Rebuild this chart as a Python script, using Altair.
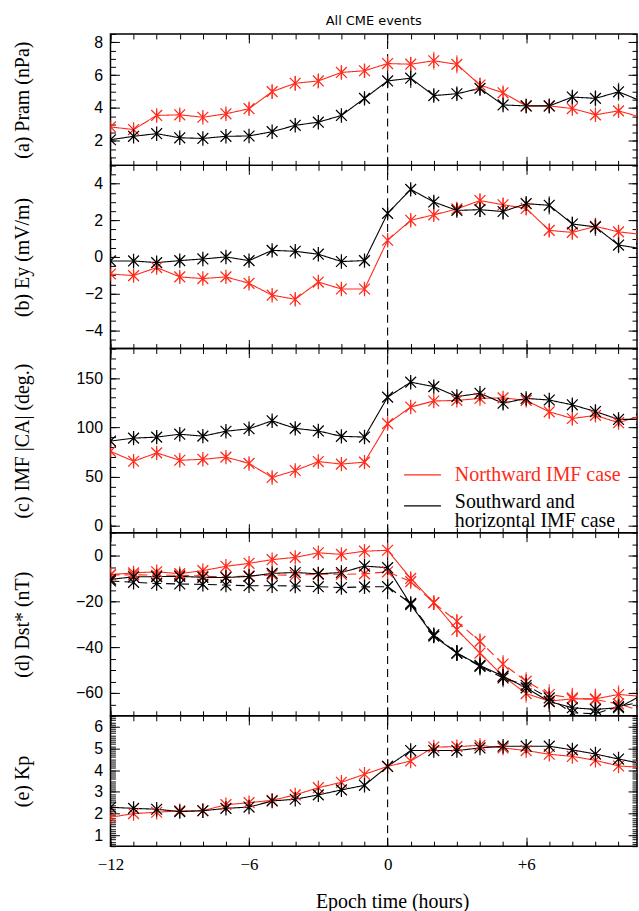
import altair as alt
import pandas as pd

# ---------------- data ----------------
hours = [-12, -11, -10, -9, -8, -7, -6, -5, -4, -3, -2, -1, 0, 1, 2, 3, 4, 5, 6, 7, 8, 9, 10, 11]

pram_north = [2.84, 2.68, 3.54, 3.58, 3.43, 3.64, 3.95, 4.99, 5.50, 5.64, 6.16, 6.26,
              6.70, 6.66, 6.87, 6.65, 5.39, 4.92, 4.12, 4.12, 3.96, 3.58, 3.82, 3.42]
pram_south = [2.06, 2.27, 2.43, 2.18, 2.14, 2.27, 2.29, 2.55, 2.94, 3.13, 3.54, 4.58,
              5.64, 5.81, 4.75, 4.86, 5.19, 4.18, 4.12, 4.12, 4.66, 4.58, 4.98, 4.40]
pram_north_err = [0.25, 0.25, 0.3, 0.3, 0.25, 0.3, 0.35, 0.45, 0.45, 0.45, 0.4, 0.4,
                  0.35, 0.45, 0.55, 0.55, 0.45, 0.35, 0.3, 0.3, 0.3, 0.25, 0.3, 0.3]
pram_south_err = [0.15, 0.15, 0.15, 0.15, 0.15, 0.15, 0.15, 0.15, 0.2, 0.2, 0.25, 0.3,
                  0.4, 0.6, 0.35, 0.35, 0.45, 0.3, 0.3, 0.35, 0.35, 0.5, 0.55, 0.45]

ey_north = [-0.93, -1.02, -0.58, -1.09, -1.18, -1.09, -1.44, -2.09, -2.31, -1.37, -1.75, -1.75,
            0.91, 2.0, 2.3, 2.62, 3.08, 2.85, 2.65, 1.45, 1.34, 1.67, 1.37, 1.23]
ey_south = [-0.22, -0.22, -0.31, -0.2, -0.11, 0.0, -0.2, 0.36, 0.31, 0.15, -0.25, -0.2,
            2.38, 3.69, 3.0, 2.54, 2.58, 2.48, 2.91, 2.82, 1.8, 1.64, 0.65, 0.45]
ey_north_err = [0.25, 0.25, 0.25, 0.25, 0.2, 0.2, 0.25, 0.25, 0.3, 0.25, 0.25, 0.25,
                0.3, 0.3, 0.3, 0.35, 0.35, 0.35, 0.35, 0.35, 0.4, 0.4, 0.35, 0.35]
ey_south_err = [0.2, 0.2, 0.2, 0.2, 0.2, 0.2, 0.2, 0.2, 0.2, 0.2, 0.2, 0.2,
                0.3, 0.25, 0.3, 0.3, 0.4, 0.45, 0.4, 0.5, 0.4, 0.5, 0.45, 0.45]

ca_north = [75.6, 65.5, 74.0, 66.5, 67.5, 69.7, 63.3, 49.0, 56.1, 65.2, 62.6, 64.6,
            103.7, 120.6, 126.7, 127.3, 129.3, 129.9, 127.3, 115.7, 108.9, 112.1, 104.7, 112.0]
ca_south = [86.0, 89.0, 90.0, 93.0, 91.0, 96.0, 98.5, 106.6, 98.9, 96.3, 90.8, 90.1,
            130.6, 145.8, 141.3, 131.2, 134.5, 124.4, 129.3, 127.7, 122.8, 116.0, 108.0, 108.0]
ca_north_err = [5, 5, 5, 5, 4, 4, 5, 5, 5, 4, 4, 4, 5, 4, 4, 4, 4, 4, 5, 6, 6, 6, 5, 5]
ca_south_err = [5, 5, 5, 4, 4, 4, 4, 4, 4, 4, 4, 4, 5, 4, 4, 4, 4, 6, 4, 4, 6, 6, 5, 5]

dst_north = [-8.3, -7.6, -7.1, -7.9, -6.6, -4.7, -3.4, -1.8, -0.8, 1.2, 0.5, 1.9,
             2.3, -10.0, -20.6, -32.4, -42.6, -52.7, -60.3, -63.6, -62.6, -62.6, -60.7, -61.5]
dst_north_dash = [-8.5, -8.4, -8.6, -8.6, -9.0, -9.4, -8.9, -8.5, -8.6, -8.2, -8.2, -8.0,
                  -7.1, -11.4, -20.6, -28.8, -37.5, -47.4, -54.9, -60.7, -62.2, -62.9, -64.8, -68.0]
dst_south = [-10.4, -9.3, -9.2, -9.1, -9.5, -9.6, -9.1, -7.8, -7.4, -8.0, -7.4, -4.6,
             -5.3, -21.4, -35.2, -42.6, -48.0, -52.7, -57.8, -63.8, -66.5, -67.2, -66.5, -61.0]
dst_south_dash = [-11.1, -11.7, -12.2, -12.4, -12.6, -12.9, -13.2, -13.2, -13.3, -13.6, -14.0, -13.7,
                  -13.6, -20.9, -34.6, -42.6, -48.4, -53.5, -56.7, -62.2, -68.7, -69.1, -66.0, -64.0]
dst_north_err = [1.5, 1.5, 1.5, 1.5, 1.5, 1.5, 1.5, 1.5, 1.5, 1.5, 1.5, 1.5,
                 1.5, 2.5, 2.5, 3.0, 3.5, 4.0, 4.0, 4.5, 4.5, 4.5, 4.0, 4.0]
dst_north_dash_err = [1.5, 1.5, 1.5, 1.5, 1.5, 1.5, 1.5, 1.5, 1.5, 1.5, 1.5, 1.5,
                      1.5, 2.5, 2.5, 3.0, 3.5, 4.0, 4.0, 4.5, 4.5, 4.5, 4.0, 4.0]
dst_south_err = [1.2, 1.2, 1.2, 1.2, 1.2, 1.2, 1.2, 1.2, 1.2, 1.2, 1.5, 1.5,
                 1.5, 2.0, 3.0, 3.5, 4.0, 4.0, 4.5, 4.5, 4.5, 4.5, 4.0, 4.0]
dst_south_dash_err = [1.2, 1.2, 1.2, 1.2, 1.2, 1.2, 1.2, 1.2, 1.2, 1.2, 1.5, 1.5,
                      1.5, 2.0, 3.0, 3.5, 4.0, 4.0, 4.5, 4.5, 4.5, 4.5, 4.0, 4.0]

kp_north = [1.83, 2.0, 2.06, 2.13, 2.13, 2.41, 2.5, 2.61, 2.86, 3.19, 3.44, 3.81,
            4.17, 4.42, 5.06, 5.08, 5.14, 5.02, 4.9, 4.73, 4.63, 4.45, 4.19, 4.13]
kp_south = [2.29, 2.24, 2.2, 2.09, 2.13, 2.24, 2.3, 2.58, 2.66, 2.86, 3.09, 3.3,
            4.17, 4.9, 4.9, 4.9, 5.02, 5.1, 5.1, 5.1, 4.93, 4.74, 4.51, 4.3]
kp_north_err = [0.1, 0.1, 0.1, 0.1, 0.1, 0.1, 0.1, 0.1, 0.1, 0.1, 0.1, 0.1,
                0.1, 0.1, 0.1, 0.1, 0.1, 0.1, 0.1, 0.1, 0.1, 0.1, 0.1, 0.1]
kp_south_err = [0.1, 0.1, 0.1, 0.1, 0.1, 0.1, 0.1, 0.1, 0.1, 0.1, 0.1, 0.1,
                0.1, 0.1, 0.1, 0.1, 0.1, 0.1, 0.1, 0.1, 0.1, 0.1, 0.1, 0.1]

x_tick_values = [-12, -6, 0, 6]
x_tick_labels = ["\u221212", "\u22126", "0", "+6"]
legend_labels = ["Northward IMF case", "Southward and\nhorizontal IMF case"]
panel_titles = ["(a) Pram (nPa)", "(b) Ey (mV/m)", "(c) IMF |CA| (deg.)", "(d) Dst* (nT)", "(e) Kp"]
chart_title = "All CME events"
x_title = "Epoch time (hours)"

# ---------------- style ----------------
RED = "#ff2a1a"
BLACK = "#000000"
SERIF = "Liberation Serif"
SANS = "Liberation Sans"
W = 529
X_DOMAIN = [-12, 10.8]
ASTERISK = "M0,-1L0,1M-0.75,-0.75L0.75,0.75M-0.75,0.75L0.75,-0.75"


def frange(lo, hi, step):
    n = int(round((hi - lo) / step))
    return [round(lo + i * step, 4) for i in range(n + 1)]


x_minor = frange(-12, 10, 1)

label_expr = ""
for v, lab in zip(x_tick_values, x_tick_labels):
    label_expr += "datum.value == %s ? '%s' : " % (v, lab)
label_expr += "''"


def long_df(entries):
    rows = []
    for series, style, vals, errs in entries:
        for h, v, e in zip(hours, vals, errs):
            rows.append({"hour": h, "value": v, "err": e, "series": series,
                         "style": style, "key": series + "-" + style})
    return pd.DataFrame(rows)


def tick_axis(orient, values, size, **kw):
    opts = dict(orient=orient, values=values, tickSize={"expr": str(-size)},
                tickColor="black", tickWidth=1, domain=False, grid=False,
                labels=False, title=None)
    opts.update(kw)
    return alt.Axis(**opts)


def panel(df, ytitle, domain, major, minor, height, last=False, legend=False, top_title=False):
    xs = alt.Scale(domain=X_DOMAIN, nice=False, zero=False)
    ys = alt.Scale(domain=domain, nice=False, zero=False)
    color = alt.Color("series:N", scale=alt.Scale(domain=["north", "south"], range=[RED, BLACK]),
                      legend=None)
    dash = alt.StrokeDash("style:N", scale=alt.Scale(domain=["solid", "dashed"],
                                                      range=[[1, 0], [9, 5]]), legend=None)

    if last:
        xb_major = tick_axis("bottom", x_tick_values, 9, labels=True, labelExpr=label_expr,
                             labelFont=SERIF, labelFontSize=17, labelColor="black",
                             labelPadding=19, labelFlush=False, title=x_title,
                             titleFont=SERIF, titleFontSize=20, titleFontWeight="normal",
                             titleColor="black", titleX=283, titleY=56,
                             titleBaseline="middle", titleAlign="center")
    else:
        xb_major = tick_axis("bottom", x_tick_values, 9)
    xb_minor = tick_axis("bottom", x_minor, 5)
    xt_major = tick_axis("top", x_tick_values, 9)
    xt_minor = tick_axis("top", x_minor, 5)

    yl_major = tick_axis("left", major, 9, labels=True, labelFont=SANS, labelFontSize=16,
                         labelColor="black", labelPadding=17, title=ytitle,
                         titleFont=SERIF, titleFontSize=20, titleFontWeight="normal",
                         titleColor="black", titleX=-88, titleY=height / 2,
                         titleBaseline="middle", titleAlign="center", titleAngle=270)
    yl_minor = tick_axis("left", minor, 5)
    yr_major = tick_axis("right", major, 9)
    yr_minor = tick_axis("right", minor, 5)

    base = alt.Chart(df)
    lines = base.mark_line(strokeWidth=1.1, clip=True).encode(
        x=alt.X("hour:Q", scale=xs, axis=xb_major),
        y=alt.Y("value:Q", scale=ys, axis=yl_major),
        color=color, strokeDash=dash, detail="key:N")
    pts = base.mark_point(shape=ASTERISK, size=210, filled=False, strokeWidth=1.25,
                          opacity=1, clip=True).encode(
        x=alt.X("hour:Q", scale=xs, axis=xb_minor),
        y=alt.Y("value:Q", scale=ys, axis=yl_minor),
        color=color)
    errs = base.transform_calculate(
        lo="datum.value - datum.err", hi="datum.value + datum.err"
    ).mark_rule(strokeWidth=1.3, clip=True, opacity=0.7).encode(
        x=alt.X("hour:Q", scale=xs, axis=xt_major),
        y=alt.Y("lo:Q", scale=ys, axis=yr_major),
        y2="hi:Q",
        color=color)
    zero = alt.Chart(pd.DataFrame({"z": [0]})).mark_rule(
        strokeDash=[8, 5], color="black", strokeWidth=1.1).encode(
        x=alt.X(datum=0, type="quantitative", scale=xs, axis=xt_minor),
        y=alt.Y(datum=domain[0], type="quantitative", scale=ys, axis=yr_minor),
        y2=alt.Y2(datum=domain[1]))

    layers = [zero, lines, errs, pts]
    if legend:
        ld0 = pd.DataFrame({"label": [legend_labels[0]]})
        ld1 = pd.DataFrame({"label": [legend_labels[1]]})
        layers += [
            alt.Chart(ld0).mark_rule(color=RED, strokeWidth=1.3).encode(
                x=alt.value(295), x2=alt.value(332), y=alt.value(127)),
            alt.Chart(ld1).mark_rule(color=BLACK, strokeWidth=1.3).encode(
                x=alt.value(295), x2=alt.value(332), y=alt.value(158)),
            alt.Chart(ld0).mark_text(align="left", baseline="middle", font=SERIF,
                                     fontSize=20, color=RED).encode(
                x=alt.value(346), y=alt.value(127), text="label:N"),
            alt.Chart(ld1).mark_text(align="left", baseline="middle", font=SERIF,
                                     fontSize=20, color=BLACK, lineBreak="\n",
                                     lineHeight=19).encode(
                x=alt.value(346), y=alt.value(154), text="label:N"),
        ]
    props = dict(width=W, height=height)
    if top_title:
        props["title"] = alt.TitleParams(chart_title, font="DejaVu Sans", fontSize=13,
                                         fontWeight="normal", color="black", offset=5,
                                         anchor="middle", frame="group")
    return alt.layer(*layers).resolve_axis(x="independent", y="independent").properties(**props)


df_a = long_df([("north", "solid", pram_north, pram_north_err),
                ("south", "solid", pram_south, pram_south_err)])
df_b = long_df([("north", "solid", ey_north, ey_north_err),
                ("south", "solid", ey_south, ey_south_err)])
df_c = long_df([("north", "solid", ca_north, ca_north_err),
                ("south", "solid", ca_south, ca_south_err)])
df_d = long_df([("north", "solid", dst_north, dst_north_err),
                ("north", "dashed", dst_north_dash, dst_north_dash_err),
                ("south", "solid", dst_south, dst_south_err),
                ("south", "dashed", dst_south_dash, dst_south_dash_err)])
df_e = long_df([("north", "solid", kp_north, kp_north_err),
                ("south", "solid", kp_south, kp_south_err)])

pa = panel(df_a, panel_titles[0], [0.5, 8.5], [2, 4, 6, 8], frange(0.5, 8.5, 0.5), 132,
           top_title=True)
pb = panel(df_b, panel_titles[1], [-5, 5], [-4, -2, 0, 2, 4], frange(-5, 5, 0.5), 184)
pc = panel(df_c, panel_titles[2], [-7, 180], [0, 50, 100, 150], frange(0, 180, 10), 185,
           legend=True)
pd_ = panel(df_d, panel_titles[3], [-70, 10], [-60, -40, -20, 0], frange(-70, 10, 5), 184)
pe = panel(df_e, panel_titles[4], [0.5, 6.5], [1, 2, 3, 4, 5, 6], frange(0.5, 6.5, 0.1), 131,
           last=True)

chart = alt.vconcat(pa, pb, pc, pd_, pe, spacing=0, bounds="flush").properties(
    padding={"left": 12, "top": 12, "right": 0, "bottom": 0},
    background="white",
).configure_view(stroke="black", strokeWidth=1.5)

chart.save("out.html", embed_options={"renderer": "svg", "actions": False})
